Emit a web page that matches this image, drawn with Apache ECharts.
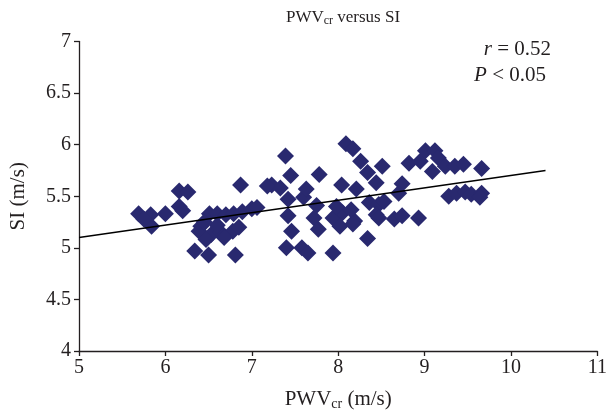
<!DOCTYPE html>
<html>
<head>
<meta charset="utf-8">
<script src="https://cdn.jsdelivr.net/npm/echarts@6/dist/echarts.min.js"></script>
<style>html,body{margin:0;padding:0;background:#fff}#c{width:610px;height:416px}</style>
</head>
<body>
<div id="c"></div>
<script>
// PWVcr (m/s)
var pwvX = [5.69,5.83,5.84,5.75,6.00,6.16,6.26,6.16,6.20,6.34,6.50,6.81,
  6.51,6.60,6.70,6.79,6.89,7.00,6.41,6.39,6.53,6.64,6.78,6.85,6.47,6.68,6.45,6.60,6.87,
  7.23,7.33,7.39,7.45,7.42,7.60,7.63,7.75,7.78,7.06,7.42,7.46,7.72,7.77,7.40,7.58,7.65,7.94,
  7.94,8.05,8.19,8.15,8.02,8.04,8.21,8.09,8.17,8.26,8.51,8.34,8.44,8.74,8.70,8.36,8.47,8.53,
  8.44,8.65,8.74,8.93,8.17,8.34,8.47,7.98,
  8.82,8.95,9.01,9.12,9.16,9.09,9.24,9.35,9.45,9.66,9.28,9.37,9.47,9.54,9.66,9.64,7.18];
// SI (m/s)
var siY = [5.33,5.32,5.21,5.28,5.33,5.55,5.54,5.40,5.36,4.97,4.93,4.93,
  5.33,5.33,5.32,5.33,5.35,5.38,5.21,5.16,5.13,5.15,5.16,5.20,5.08,5.10,5.25,5.22,5.61,
  5.61,5.58,5.89,5.70,5.47,5.49,5.57,5.41,5.71,5.39,5.31,5.16,5.29,5.18,5.00,5.00,4.95,4.95,
  5.29,5.34,5.26,5.37,5.21,5.61,5.57,6.01,5.96,5.84,5.79,5.73,5.63,5.62,5.53,5.44,5.42,5.45,
  5.32,5.28,5.31,5.29,5.23,5.09,5.29,5.40,
  5.82,5.84,5.94,5.94,5.87,5.74,5.79,5.79,5.81,5.77,5.50,5.53,5.54,5.52,5.53,5.49,5.60];
// linear trend line endpoints
var trendX = [5.0, 10.4];
var trendY = [5.10, 5.75];
var xTicks = {min: 5, max: 11, step: 1};
var yTicks = {min: 4, max: 7, step: 0.5};

var pts = pwvX.map(function(x, i){ return [x, siY[i]]; });
var trend = trendX.map(function(x, i){ return [x, trendY[i]]; });

var FONT = '"Liberation Serif", "DejaVu Serif", serif';
var INK = '#231f20';
var chart = echarts.init(document.getElementById('c'), null, {renderer: 'canvas'});
chart.setOption({
  animation: false,
  backgroundColor: '#fff',
  title: {
    text: '{a|PWV}{s|cr}{a| versus SI}',
    left: 338, textAlign: 'center', top: 3,
    textStyle: {
      fontWeight: 'normal', fontSize: 17, fontFamily: FONT,
      rich: {
        a: {fontFamily: FONT, fontSize: 17, fontWeight: 'normal', color: INK},
        s: {fontFamily: FONT, fontSize: 12, fontWeight: 'normal', color: INK, padding: [7, 0, 0, 0]}
      }
    }
  },
  grid: {left: 77, right: 9, top: 41.5, bottom: 64, containLabel: false},
  xAxis: {
    type: 'value', min: xTicks.min, max: xTicks.max, interval: xTicks.step,
    splitLine: {show: false},
    axisLine: {lineStyle: {color: INK, width: 1.3}},
    axisTick: {inside: false, length: 5, lineStyle: {color: INK, width: 1.3}},
    axisLabel: {fontFamily: FONT, fontSize: 20, color: INK, margin: 7},
    name: '{a|PWV}{s|cr}{a| (m/s)}',
    nameLocation: 'middle', nameGap: 37,
    nameTextStyle: {
      rich: {
        a: {fontFamily: FONT, fontSize: 21, color: INK},
        s: {fontFamily: FONT, fontSize: 14, color: INK, padding: [9, 0, 0, 0]}
      }
    }
  },
  yAxis: {
    type: 'value', min: yTicks.min, max: yTicks.max, interval: yTicks.step,
    splitLine: {show: false},
    axisLine: {show: true, lineStyle: {color: INK, width: 1.3}},
    axisTick: {show: true, inside: false, length: 5, lineStyle: {color: INK, width: 1.3}},
    axisLabel: {fontFamily: FONT, fontSize: 20, color: INK, margin: 8},
    name: 'SI (m/s)',
    nameLocation: 'middle', nameGap: 50,
    nameTextStyle: {fontFamily: FONT, fontSize: 21, color: INK}
  },
  graphic: [
    {type: 'text', right: 59, top: 39, style: {
      text: '{i|r} = 0.52', fill: INK,
      rich: {i: {fontFamily: FONT, fontSize: 21, fontStyle: 'italic', fill: INK}},
      font: '21px ' + FONT}},
    {type: 'text', right: 64, top: 65, style: {
      text: '{i|P} < 0.05', fill: INK,
      rich: {i: {fontFamily: FONT, fontSize: 21, fontStyle: 'italic', fill: INK}},
      font: '21px ' + FONT}}
  ],
  series: [
    {
      type: 'scatter', data: pts, symbol: 'diamond', symbolSize: [17, 17],
      itemStyle: {color: '#29296f', opacity: 1}, z: 2
    },
    {
      type: 'line', data: trend, showSymbol: false, symbol: 'none',
      lineStyle: {color: '#000', width: 1.4}, z: 3, silent: true
    }
  ]
});
</script>
</body>
</html>
